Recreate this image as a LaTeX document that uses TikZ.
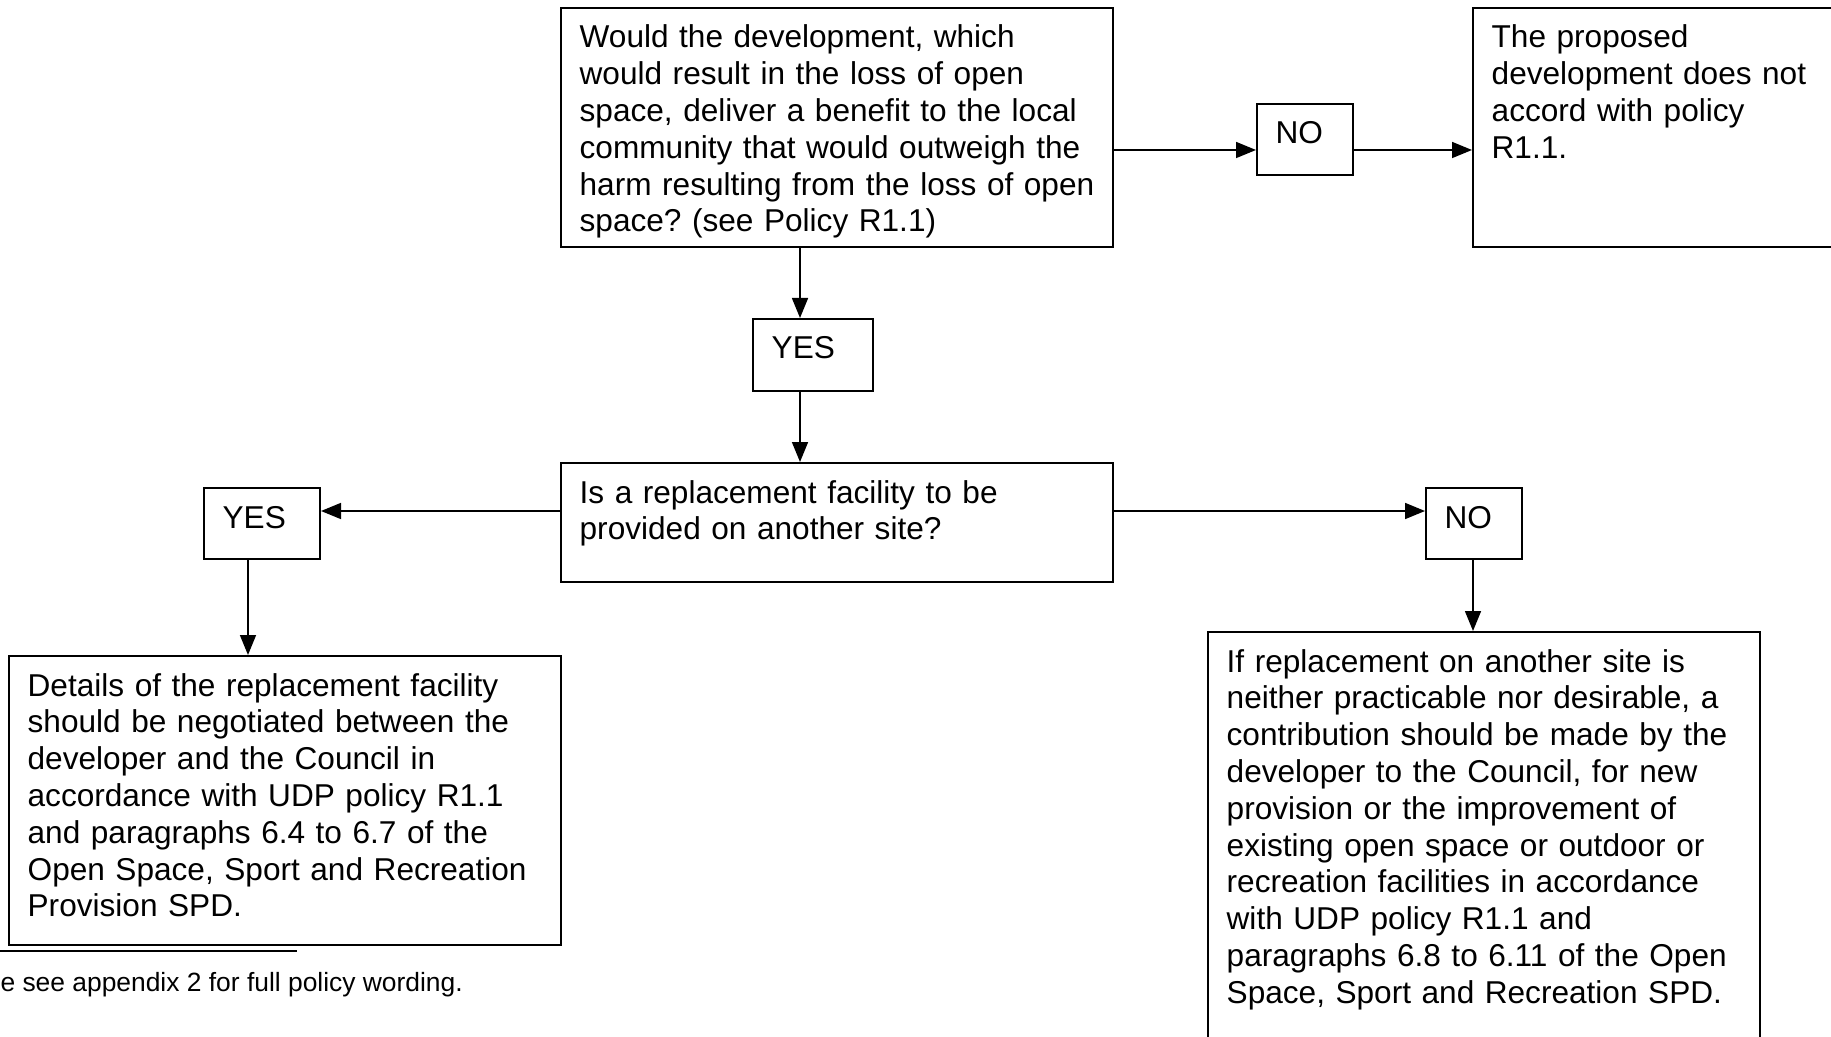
\documentclass[tikz,border=0pt]{standalone}
\usepackage{fontspec}
\setmainfont{Liberation Sans}
\usetikzlibrary{arrows.meta}
\frenchspacing

\begin{document}
\begin{tikzpicture}[x=0.375pt, y=-0.375pt,
    box/.style={draw, line width=0.75pt, anchor=north west, align=left,
      inner xsep=7pt, inner ysep=0pt, text height=15pt,
      font=\fontsize{11.85}{13.8}\selectfont},
    link/.style={-{Triangle[length=7.5pt, width=6pt]}, line width=0.6pt}]
    \useasboundingbox (0,0) rectangle (1831,1037);

    % Rows and columns the connectors run along
    \coordinate (row1) at (0,150);
    \coordinate (row2) at (0,511);
    \coordinate (col1) at (800,0);
    \coordinate (col2) at (248,0);
    \coordinate (col3) at (1473,0);

    % Top question and the NO branch
    \node[box, text width=193pt, text depth=74.6pt] (benefit) at (560,7)
        {Would the development, which\\ would result in the loss of open\\ space, deliver a benefit to the local\\ community that would outweigh the\\ harm resulting from the loss of open\\ space? (see Policy R1.1)};
    \node[box, text width=22pt, text depth=11.6pt] (no1) at (1256,103) {NO};
    \node[box, text width=193pt, text depth=74.6pt] (refuse) at (1472,7)
        {The proposed\\ development does not\\ accord with policy\\ R1.1.};
    \draw[link] (benefit.east |- row1) -- (no1.west |- row1);
    \draw[link] (no1.east |- row1) -- (refuse.west |- row1);

    % YES leads to the second question
    \node[box, text width=31pt, text depth=12pt] (yes1) at (752,318) {YES};
    \node[box, text width=193pt, text depth=29.6pt] (replace) at (560,462)
        {Is a replacement facility to be\\ provided on another site?};
    \draw[link] (benefit.south -| col1) -- (yes1.north -| col1);
    \draw[link] (yes1.south -| col1) -- (replace.north -| col1);

    % Replacement on another site
    \node[box, text width=29.5pt, text depth=11.6pt] (yes2) at (203,487) {YES};
    \node[box, text width=193pt, text depth=93.4pt] (details) at (8,655)
        {Details of the replacement facility\\ should be negotiated between the\\ developer and the Council in\\ accordance with UDP policy R1.1\\ and paragraphs 6.4 to 6.7 of the\\ Open Space, Sport and Recreation\\ Provision SPD.};
    \draw[link] (replace.west |- row2) -- (yes2.east |- row2);
    \draw[link] (yes2.south -| col2) -- (details.north -| col2);

    % No replacement: contribution instead
    \node[box, text width=22pt, text depth=11.6pt] (no2) at (1425,487) {NO};
    \node[box, text width=193pt, text depth=153.8pt] (contrib) at (1207,631)
        {If replacement on another site is\\ neither practicable nor desirable, a\\ contribution should be made by the\\ developer to the Council, for new\\ provision or the improvement of\\ existing open space or outdoor or\\ recreation facilities in accordance\\ with UDP policy R1.1 and\\ paragraphs 6.8 to 6.11 of the Open\\ Space, Sport and Recreation SPD.};
    \draw[link] (replace.east |- row2) -- (no2.west |- row2);
    \draw[link] (no2.south -| col3) -- (contrib.north -| col3);

    % Footnote rule and text
    \draw[line width=0.75pt] (0,951) -- (297,951);
    \node[anchor=base west, inner sep=0pt, font=\fontsize{9.9}{12}\selectfont] (note) at (0,991)
        {e see appendix 2 for full policy wording.};
\end{tikzpicture}
\end{document}
